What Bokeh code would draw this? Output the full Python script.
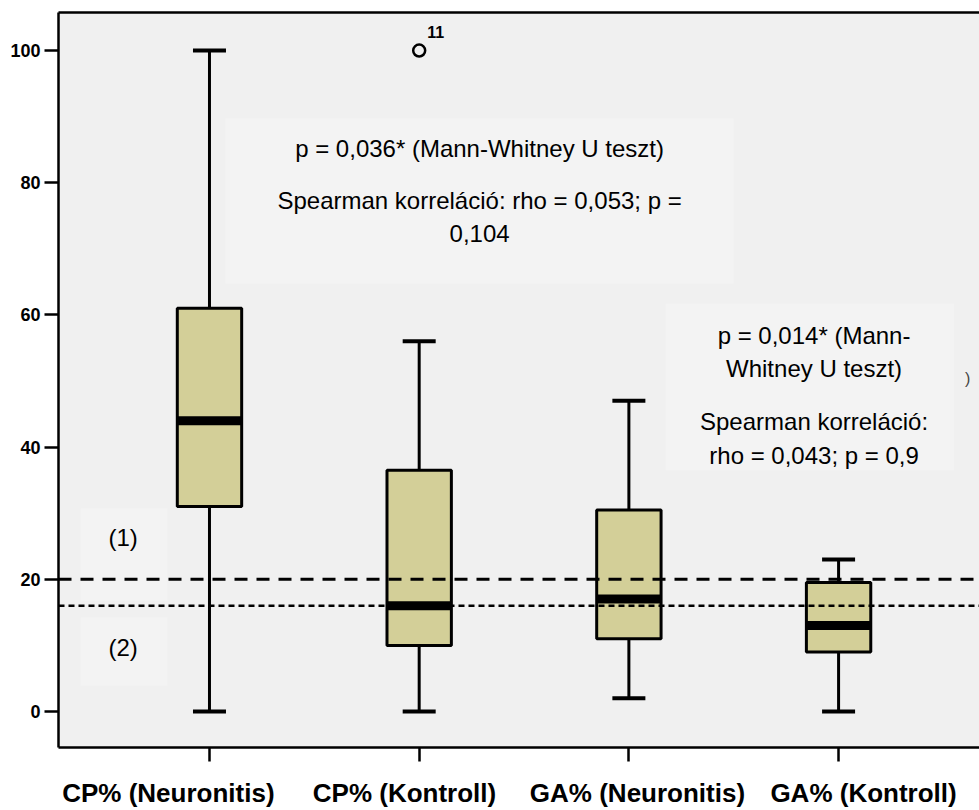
from bokeh.plotting import figure
from bokeh.models import LinearAxis, FixedTicker, Span, BoxAnnotation, Range1d
from bokeh.core.properties import value
from bokeh.embed import file_html
from bokeh.resources import INLINE

# ---- data -------------------------------------------------------------
categories = ["CP% (Neuronitis)", "CP% (Kontroll)", "GA% (Neuronitis)", "GA% (Kontroll)"]
positions = [1, 2, 3, 4]
lower = [0, 0, 2, 0]
q1 = [31, 10, 11, 9]
median = [44, 16, 17, 13]
q3 = [61, 36.5, 30.5, 19.5]
upper = [100, 56, 47, 23]

outlier_pos = [2]
outlier_val = [100]
outlier_label = ["11"]

threshold_dashed = 20
threshold_dotted = 16

y_ticks = [0, 20, 40, 60, 80, 100]
label_pos = [0.804, 1.930, 3.041, 4.119]

ann_text = ["p = 0,036* (Mann-Whitney U teszt)",
            "Spearman korreláció: rho = 0,053; p =",
            "0,104",
            "p = 0,014* (Mann-",
            "Whitney U teszt)",
            "Spearman korreláció:",
            "rho = 0,043; p = 0,9"]
ann_x = [2.288, 2.288, 2.288, 3.883, 3.883, 3.883, 3.883]
ann_y = [85.2, 77.3, 72.3, 56.9, 51.9, 43.9, 38.7]

group_text = ["(1)", "(2)"]
group_x = [0.588, 0.588]
group_y = [26.3, 9.7]

FONT = "Liberation Sans"
BG = "#f0f0f0"

p = figure(width=979, height=810,
           x_range=Range1d(0.28, 4.672), y_range=Range1d(-5.45, 105.75),
           x_axis_type=None, y_axis_type=None,
           output_backend="svg", toolbar_location=None,
           min_border_left=58, min_border_right=0,
           min_border_top=12, min_border_bottom=63)
p.background_fill_color = BG
p.border_fill_color = "white"
p.outline_line_color = None

# subtle lighter text boxes
for l, r, t, b in [(1.076, 3.499, 89.7, 64.7), (3.175, 4.55, 61.7, 36.5),
                   (0.385, 0.80, 30.7, 16.8), (0.385, 0.80, 14.2, 3.9)]:
    p.add_layout(BoxAnnotation(left=l, right=r, top=t, bottom=b,
                               fill_color="#f3f3f3", fill_alpha=1,
                               line_color=None, level="underlay"))

# ---- axes -------------------------------------------------------------
yaxis = LinearAxis(ticker=FixedTicker(ticks=y_ticks))
yaxis.axis_line_width = 2.5
yaxis.major_tick_line_width = 2.5
yaxis.major_tick_out = 14
yaxis.major_tick_in = 0
yaxis.minor_tick_line_color = None
yaxis.major_label_standoff = 4
yaxis.major_label_text_font = FONT
yaxis.major_label_text_font_size = "18px"
yaxis.major_label_text_font_style = "bold"
yaxis.major_label_text_color = "black"
p.add_layout(yaxis, "left")

top_axis = LinearAxis(ticker=FixedTicker(ticks=[]))
top_axis.axis_line_width = 2.5
top_axis.major_tick_line_color = None
top_axis.minor_tick_line_color = None
top_axis.major_label_text_font_size = "0px"
top_axis.major_label_standoff = 0
p.add_layout(top_axis, "above")

tick_axis = LinearAxis(ticker=FixedTicker(ticks=positions))
tick_axis.axis_line_width = 2.5
tick_axis.major_tick_line_width = 2.5
tick_axis.major_tick_out = 14
tick_axis.major_tick_in = 0
tick_axis.minor_tick_line_color = None
tick_axis.major_label_text_font_size = "0px"
tick_axis.major_label_standoff = 0
tick_axis.major_label_overrides = {pos: "" for pos in positions}
p.add_layout(tick_axis, "below")

label_axis = LinearAxis(ticker=FixedTicker(ticks=label_pos))
label_axis.axis_line_color = None
label_axis.major_tick_line_color = None
label_axis.minor_tick_line_color = None
label_axis.major_tick_out = 0
label_axis.major_tick_in = 0
label_axis.major_label_standoff = 16
label_axis.major_label_overrides = {lp: c for lp, c in zip(label_pos, categories)}
label_axis.major_label_text_font = FONT
label_axis.major_label_text_font_size = "26px"
label_axis.major_label_text_font_style = "bold"
label_axis.major_label_text_color = "black"
p.add_layout(label_axis, "below")

# ---- boxplots ---------------------------------------------------------
p.segment(x0=positions, y0=q3, x1=positions, y1=upper, line_color="black", line_width=3)
p.segment(x0=positions, y0=q1, x1=positions, y1=lower, line_color="black", line_width=3)
p.scatter(x=positions, y=upper, marker="dash", size=33, line_color="black", line_width=4)
p.scatter(x=positions, y=lower, marker="dash", size=33, line_color="black", line_width=4)
p.vbar(x=positions, top=q3, bottom=q1, width=0.307,
       fill_color="#d3cf98", line_color="black", line_width=3)
p.rect(x=positions, y=median, width=0.307, height=9, height_units="screen",
       fill_color="black", line_color=None)

# outlier
p.scatter(x=outlier_pos, y=outlier_val, marker="circle", size=12,
          fill_color=BG, line_color="black", line_width=2.5)
p.text(x=outlier_pos, y=outlier_val, text=outlier_label, x_offset=8, y_offset=-19,
       text_font=value(FONT), text_font_size="16px", text_font_style="bold",
       text_align="left", text_baseline="middle", text_color="black")

# reference lines
p.add_layout(Span(location=threshold_dashed, dimension="width", line_color="black",
                  line_width=3, line_dash="13 9"))
p.add_layout(Span(location=threshold_dotted, dimension="width", line_color="black",
                  line_width=2.5, line_dash="6 4"))

# annotations
p.text(x=ann_x, y=ann_y, text=ann_text, text_font=value(FONT), text_font_size="24px",
       text_align="center", text_baseline="middle", text_color="black")
p.text(x=group_x, y=group_y, text=group_text, text_font=value(FONT), text_font_size="24px",
       text_align="center", text_baseline="middle", text_color="black")
p.text(x=[4.615], y=[50.4], text=[")"], text_font=value(FONT), text_font_size="16px",
       text_align="center", text_baseline="middle", text_color="#444444")

open("out.html", "w").write(file_html(p, INLINE))
